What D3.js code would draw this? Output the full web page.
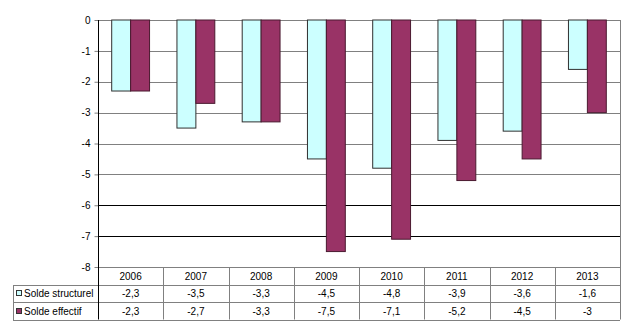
<!DOCTYPE html>
<html>
<head>
<meta charset="utf-8">
<script src="https://cdn.jsdelivr.net/npm/d3@7"></script>
<style>
  body { margin: 0; background: #fff; }
  text { font-family: "Liberation Sans", Arial, sans-serif; font-size: 10px; fill: #000; }
</style>
</head>
<body>
<svg id="chart" width="631" height="331"></svg>
<script>
//Chart data.
const years = ['2006', '2007', '2008', '2009', '2010', '2011', '2012', '2013'];
const soldeStructurel = [-2.3, -3.5, -3.3, -4.5, -4.8, -3.9, -3.6, -1.6];
const soldeEffectif = [-2.3, -2.7, -3.3, -7.5, -7.1, -5.2, -4.5, -3];
const seriesNames = ['Solde structurel', 'Solde effectif'];
const seriesColors = ['#ccffff', '#993366'];
const yTicks = [0, -1, -2, -3, -4, -5, -6, -7, -8];

const svg = d3.select('#chart');
const plotLeft = 98, plotRight = 620, plotTop = 20, plotBottom = 267;
const rowH = 17.5;
const tableLeft = 13;

let x = d3.scaleBand().domain(years).range([plotLeft, plotRight]).padding(0);
let y = d3.scaleLinear().domain([-8, 0]).range([plotBottom, plotTop]);
const barW = x.bandwidth() * 0.29;

//Gridlines (the reference draws the lower two darker).
svg.append('g').selectAll('line')
  .data(yTicks)
  .join('line')
  .attr('x1', plotLeft).attr('x2', plotRight)
  .attr('y1', d => Math.round(y(d)) + 0.5)
  .attr('y2', d => Math.round(y(d)) + 0.5)
  .attr('stroke', d => (d == -6 || d == -7) ? '#000' : '#808080')
  .attr('stroke-width', 1);

//Bars, one group per year.
let series = [soldeStructurel, soldeEffectif];
series.forEach((vals, j) => {
  svg.append('g').selectAll('rect')
    .data(vals)
    .join('rect')
    .attr('x', (d, i) => x(years[i]) + x.bandwidth() / 2 - barW + j * barW)
    .attr('y', y(0))
    .attr('width', barW)
    .attr('height', d => y(d) - y(0))
    .attr('fill', seriesColors[j])
    .attr('stroke', j == 0 ? '#303030' : '#4a1a30')
    .attr('stroke-width', 1);
});

//Y axis, plain hyphen for the minus sign like the original.
let yAxis = d3.axisLeft(y).tickValues(yTicks).tickSize(4).tickFormat(d => String(d));
let ya = svg.append('g').attr('transform', 'translate(' + (plotLeft + 0.5) + ',0)').call(yAxis);
ya.select('.domain').remove();
ya.selectAll('.tick line').attr('stroke', '#808080');
ya.selectAll('.tick text').attr('x', -8).style('font-family', '"Liberation Sans", Arial, sans-serif').style('font-size', '10px').attr('fill', '#000');

//Right border of plot + table
svg.append('line').attr('x1', plotRight + 0.5).attr('x2', plotRight + 0.5).attr('y1', plotTop).attr('y2', plotBottom + 3 * rowH)
  .attr('stroke', '#808080');

//Data table below the chart.
let table = svg.append('g');
//Column separators
table.selectAll('line.col')
  .data(years.slice(1))
  .join('line')
  .attr('class', 'col')
  .attr('x1', d => Math.round(x(d)) + 0.5).attr('x2', d => Math.round(x(d)) + 0.5)
  .attr('y1', plotBottom).attr('y2', plotBottom + 3 * rowH)
  .attr('stroke', '#808080');
//Row lines
[1, 2, 3].forEach(r => {
  table.append('line')
    .attr('x1', tableLeft).attr('x2', plotRight)
    .attr('y1', Math.round(plotBottom + r * rowH) + 0.5).attr('y2', Math.round(plotBottom + r * rowH) + 0.5)
    .attr('stroke', '#808080');
});
table.append('line')
  .attr('x1', tableLeft + 0.5).attr('x2', tableLeft + 0.5)
  .attr('y1', Math.round(plotBottom + rowH)).attr('y2', Math.round(plotBottom + 3 * rowH))
  .attr('stroke', '#808080');

//Year headers
table.selectAll('text.year')
  .data(years)
  .join('text')
  .attr('class', 'year')
  .attr('x', d => x(d) + x.bandwidth() / 2)
  .attr('y', plotBottom + rowH / 2 + 4)
  .attr('text-anchor', 'middle')
  .text(d => d);

//Value rows
const fmt = v => String(v).replace('.', ',');
series.forEach((vals, j) => {
  let rowY = plotBottom + (j + 1) * rowH;
  table.append('g').selectAll('text')
    .data(vals)
    .join('text')
    .attr('x', (d, i) => x(years[i]) + x.bandwidth() / 2)
    .attr('y', rowY + rowH / 2 + 4)
    .attr('text-anchor', 'middle')
    .text(d => fmt(d));
  //Legend key
  table.append('rect')
    .attr('x', 16.5).attr('y', Math.round(rowY + rowH / 2 - 3) + 0.5)
    .attr('width', 5).attr('height', 5)
    .attr('fill', seriesColors[j])
    .attr('stroke', '#333');
  table.append('text')
    .attr('x', 24)
    .attr('y', rowY + rowH / 2 + 4)
    .text(seriesNames[j]);
});

//Axis line on top of everything
svg.append('line').attr('x1', plotLeft + 0.5).attr('x2', plotLeft + 0.5).attr('y1', plotTop).attr('y2', plotBottom + 3 * rowH)
  .attr('stroke', '#000');
</script>
</body>
</html>
